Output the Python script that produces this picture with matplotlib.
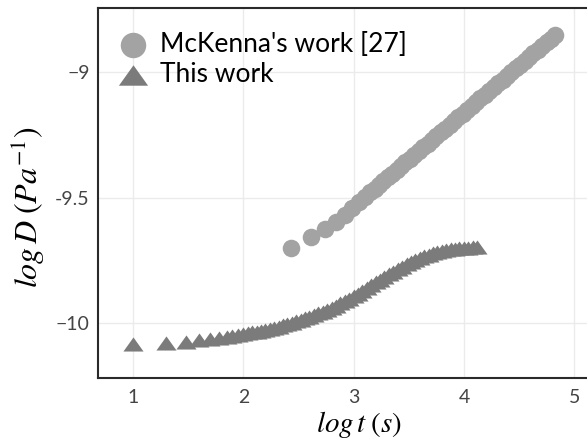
import matplotlib
matplotlib.use('Agg')
from matplotlib import pyplot as plt

plt.rcParams['mathtext.fontset'] = 'stix'

# McKenna's work [27]
mck_logt = [2.43, 2.61, 2.74, 2.84, 2.92, 2.99, 3.05, 3.10, 3.15, 3.19, 3.23, 3.27,
            3.31, 3.35, 3.39, 3.43, 3.47, 3.51, 3.55, 3.59, 3.63, 3.67, 3.71, 3.75,
            3.79, 3.83, 3.87, 3.91, 3.95, 3.99, 4.03, 4.07, 4.11, 4.15, 4.19, 4.23,
            4.27, 4.31, 4.35, 4.39, 4.43, 4.47, 4.51, 4.55, 4.59, 4.63, 4.67, 4.71,
            4.75, 4.79, 4.83]
mck_logd = [-9.700, -9.656, -9.624, -9.596, -9.567, -9.540, -9.517, -9.498, -9.479,
            -9.464, -9.449, -9.434, -9.419, -9.404, -9.389, -9.374, -9.359, -9.344,
            -9.329, -9.314, -9.299, -9.284, -9.269, -9.254, -9.239, -9.224, -9.209,
            -9.194, -9.179, -9.164, -9.149, -9.134, -9.119, -9.104, -9.089, -9.074,
            -9.059, -9.044, -9.029, -9.014, -8.999, -8.984, -8.969, -8.954, -8.939,
            -8.924, -8.909, -8.894, -8.880, -8.866, -8.852]

# This work
tw_logt = [1.00, 1.30, 1.48, 1.60, 1.70, 1.78, 1.85, 1.90, 1.95, 2.00, 2.04, 2.08,
           2.12, 2.16, 2.20, 2.24, 2.28, 2.32, 2.36, 2.40, 2.44, 2.48, 2.52, 2.56,
           2.60, 2.64, 2.68, 2.72, 2.76, 2.80, 2.84, 2.88, 2.92, 2.96, 3.00, 3.04,
           3.08, 3.12, 3.16, 3.20, 3.24, 3.28, 3.32, 3.36, 3.40, 3.44, 3.48, 3.52,
           3.56, 3.60, 3.64, 3.68, 3.72, 3.76, 3.80, 3.84, 3.88, 3.92, 3.96, 4.00,
           4.04, 4.08, 4.12]
tw_logd = [-10.083, -10.080, -10.075, -10.069, -10.064, -10.059, -10.054, -10.050,
           -10.047, -10.043, -10.040, -10.037, -10.034, -10.030, -10.026, -10.022,
           -10.018, -10.014, -10.009, -10.004, -9.999, -9.993, -9.987, -9.981,
           -9.975, -9.968, -9.961, -9.954, -9.946, -9.938, -9.930, -9.921, -9.912,
           -9.902, -9.892, -9.882, -9.871, -9.860, -9.849, -9.838, -9.827, -9.816,
           -9.805, -9.795, -9.785, -9.775, -9.766, -9.757, -9.749, -9.741, -9.734,
           -9.728, -9.722, -9.717, -9.713, -9.709, -9.706, -9.703, -9.701, -9.700,
           -9.699, -9.698, -9.696]

xticks = [1, 2, 3, 4, 5]
yticks = [-10, -9.5, -9]
yticklabels = ['\u221210', '-9.5', '\u22129']

tri = [(-1, -0.7), (1, -0.7), (0, 0.7)]

fig = plt.figure(figsize=(5.87, 4.43), dpi=100)
ax = fig.add_axes([98 / 587, 1 - 378 / 443, 522 / 587, 370 / 443])

ax.scatter(mck_logt, mck_logd, s=160, color='#a3a3a3', linewidths=0,
           label="McKenna's work [27]", zorder=3)
ax.scatter(tw_logt, tw_logd, s=210, marker=tri, color='#7b7b7b', linewidths=0,
           label='This work', zorder=3)

ax.set_xlim(0.683, 5.415)
ax.set_ylim(-10.219, -8.743)
ax.set_xticks(xticks)
ax.set_xticklabels([str(v) for v in xticks])
ax.set_yticks(yticks)
ax.set_yticklabels(yticklabels)
ax.tick_params(length=0, labelsize=14, labelcolor='#444444')
ax.tick_params(axis='x', pad=8)
ax.tick_params(axis='y', pad=6)
for lab in ax.get_xticklabels() + ax.get_yticklabels():
    lab.set_family('Lato')

ax.grid(True, color='#ebebeb', linewidth=1)
ax.set_axisbelow(True)
for side in ['left', 'bottom', 'top']:
    ax.spines[side].set_color('#2a2a2a')
    ax.spines[side].set_linewidth(1.5)
ax.spines['right'].set_visible(False)

ax.set_xlabel(r'$log\,t\;(s)$', fontsize=21, va='center')
ax.xaxis.set_label_coords(0.5, -0.125)
ax.set_ylabel(r'$log\,D\;(Pa^{-1})$', fontsize=23, va='center')
ax.yaxis.set_label_coords(-0.134, 0.462)

leg = ax.legend(loc='upper left', bbox_to_anchor=(0.0, 1.0 - 4 / 370), frameon=False,
                markerscale=1.45, handlelength=1.2, handletextpad=0.42,
                labelspacing=0.22, borderaxespad=0.34,
                prop={'family': 'Lato', 'size': 19})

fig.savefig('out.png', dpi=100)
